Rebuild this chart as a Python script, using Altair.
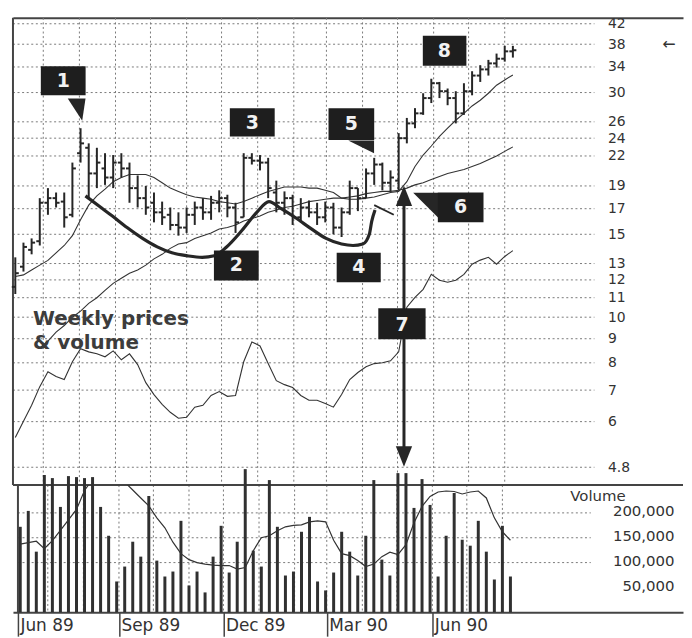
import altair as alt
import numpy as np
import pandas as pd

# ------------------------------------------------------------------ data
FIRST_WEEK = "1989-06-07"          # date of the first weekly bar
N_WEEKS = 62

opens = [11.6, 12.8, 13.9, 14.5, 17.5, 17.9, 17.6, 16.5, 22.3, 22.9,
         20.2, 20.7, 19.8, 21.3, 20.7, 18.8, 17.9, 17.5, 16.7, 16.5,
         15.7, 15.5, 16.5, 17.1, 16.7, 17.5, 17.9, 17.1, 16.3, 21.8,
         21.5, 21.3, 18.4, 17.5, 17.9, 16.3, 17.1, 16.7, 16.3, 17.1,
         15.5, 16.7, 18.8, 17.9, 20.2, 21.1, 19.3, 19.5, 24.0, 25.8,
         27.1, 29.2, 31.4, 30.2, 29.2, 27.1, 30.2, 32.6, 33.6, 34.6,
         35.4, 36.7]
highs = [13.4, 14.4, 14.7, 17.9, 18.8, 18.4, 18.4, 21.3, 25.2, 23.4,
         22.9, 22.3, 22.1, 22.3, 21.3, 20.0, 19.0, 18.4, 17.6, 17.1,
         16.7, 17.1, 17.6, 17.9, 18.1, 18.6, 18.2, 17.5, 22.3, 22.3,
         22.1, 21.8, 19.5, 18.5, 18.2, 17.9, 17.7, 17.5, 17.6, 17.5,
         17.1, 19.5, 18.8, 20.7, 21.8, 21.3, 20.5, 24.6, 26.5, 27.8,
         29.9, 32.1, 31.6, 30.6, 30.2, 31.4, 33.3, 34.3, 35.2, 36.3,
         37.7, 37.7]
lows = [11.2, 12.5, 13.6, 14.2, 16.5, 17.1, 15.5, 16.3, 21.3, 17.9,
        18.8, 19.1, 18.8, 19.8, 17.5, 17.1, 16.5, 15.9, 15.7, 15.3,
        14.9, 15.1, 15.7, 16.1, 16.1, 16.7, 16.3, 15.1, 16.3, 21.1,
        20.5, 17.9, 16.7, 16.5, 15.7, 15.9, 16.3, 15.7, 15.9, 15.0,
        14.8, 16.5, 16.8, 17.9, 19.1, 18.6, 18.5, 18.6, 23.4, 25.2,
        26.9, 28.5, 29.2, 28.2, 25.8, 26.9, 29.6, 31.6, 32.6, 33.9,
        34.9, 35.6]
closes = [12.4, 14.1, 14.4, 17.5, 17.9, 17.5, 16.3, 20.7, 23.4, 20.2,
          21.3, 19.8, 21.3, 20.7, 18.8, 17.9, 17.1, 16.7, 16.3, 15.7,
          15.5, 16.5, 17.1, 16.7, 17.5, 17.9, 17.1, 15.9, 21.8, 21.5,
          21.3, 18.8, 17.5, 17.9, 16.3, 17.1, 16.7, 16.3, 17.1, 15.5,
          16.7, 18.8, 17.9, 20.2, 21.1, 19.3, 19.8, 24.0, 25.8, 27.1,
          29.2, 31.4, 30.2, 29.2, 27.1, 30.2, 32.6, 33.6, 34.6, 35.4,
          36.7, 36.9]
ma_fast = [12.2, 12.3, 12.6, 12.9, 13.2, 13.7, 14.2, 14.9, 16.1, 17.3,
           18.1, 18.7, 19.4, 19.8, 20.1, 20.1, 20.1, 19.8, 19.3, 18.8,
           18.5, 18.2, 18.0, 17.9, 17.8, 17.6, 17.5, 17.4, 17.6, 17.9,
           18.2, 18.5, 18.7, 18.9, 18.9, 18.9, 18.8, 18.8, 18.6, 18.4,
           17.9, 17.8, 17.8, 17.9, 18.0, 18.2, 18.4, 18.5, 19.4, 20.9,
           22.1, 23.1, 24.2, 25.2, 26.2, 27.1, 28.1, 28.9, 29.9, 31.1,
           31.9, 32.7]
ma_slow = [None, None, None, 8.6, 8.9, 9.3, 9.6, 10.0, 10.3, 10.7,
           11.0, 11.4, 11.8, 12.1, 12.4, 12.6, 12.9, 13.3, 13.6, 14.0,
           14.3, 14.4, 14.7, 14.9, 15.1, 15.4, 15.5, 15.7, 16.0, 16.2,
           16.4, 16.7, 16.9, 17.1, 17.2, 17.4, 17.6, 17.7, 17.8, 17.9,
           17.9, 18.0, 18.1, 18.3, 18.4, 18.5, 18.5, 18.6, 18.8, 19.1,
           19.3, 19.6, 19.9, 20.2, 20.4, 20.6, 20.9, 21.2, 21.6, 22.0,
           22.5, 23.0]
rel_strength = [5.55, 6.01, 6.50, 7.12, 7.66, 7.48, 7.37, 8.04, 8.57, 8.44,
                8.36, 8.24, 8.48, 8.12, 8.36, 7.93, 7.26, 6.85, 6.53, 6.28,
                6.10, 6.13, 6.44, 6.50, 6.82, 6.95, 6.79, 6.82, 8.04, 8.86,
                8.69, 7.97, 7.33, 7.19, 7.09, 6.82, 6.66, 6.66, 6.56, 6.44,
                6.85, 7.37, 7.63, 7.85, 7.97, 8.00, 8.08, 8.44, 10.50, 11.02,
                11.46, 12.33, 11.98, 11.86, 11.98, 12.33, 12.96, 13.22, 13.40, 12.96,
                13.46, 13.85]
volume_k = [172, 204, 122, 276, 270, 212, 274, 272, 270, 272,
            212, 154, 62, 92, 142, 112, 234, 104, 72, 82,
            184, 54, 82, 40, 112, 174, 80, 142, 288, 124,
            92, 266, 172, 74, 82, 162, 192, 62, 44, 80,
            162, 122, 74, 154, 266, 106, 74, 280, 280, 210,
            268, 216, 72, 154, 240, 146, 134, 184, 122, 66,
            174, 72]
volume_ma_k = [137, 140, 143, 128, 144, 165, 186, 207, 245, 268,
               280, 282, 275, 262, 246, 230, 214, 190, 170, 141,
               118, 106, 100, 97, 95, 94, 94, 87, 90, 124,
               150, 154, 164, 172, 175, 176, 182, 184, 182, 145,
               118, 114, 104, 92, 97, 112, 121, 116, 136, 180,
               213, 233, 242, 244, 243, 238, 242, 244, 230, 190,
               162, 145]

price_ticks = [42, 38, 34, 30, 26, 24, 22, 19, 17, 15, 13, 12, 11, 10, 9, 8, 7, 6, 4.8]
volume_ticks = [50000, 100000, 150000, 200000]
volume_grid = [100000, 150000, 200000]

# hand-drawn annotations (positions in weeks from the first bar, price units)
cup_weeks = [8.6, 10.3, 11.9, 13.7, 15.6, 17.4, 19.2, 21.1, 22.9, 24.4, 25.9, 27.8,
             29.6, 31.1, 32.6, 34.5, 36.3, 38.1, 40.0, 41.4, 42.6, 43.4, 43.7, 44.1]
cup_prices = [18.1, 17.2, 16.4, 15.5, 14.7, 14.1, 13.7, 13.5, 13.4, 13.5, 14.1, 15.3,
              16.7, 17.6, 17.0, 16.2, 15.4, 14.7, 14.3, 14.2, 14.3, 15.0, 16.0, 16.9]
handle_weeks = [44.0, 46.4]
handle_prices = [17.3, 16.5]

box_labels = ["1", "2", "3", "4", "5", "6", "7", "8"]
box_w1 = [3.13, 24.35, 26.3, 39.4, 38.4, 51.8, 44.5, 49.96]
box_w2 = [8.62, 29.84, 31.8, 44.8, 44.0, 57.4, 50.3, 55.3]
box_top = [34.1, 13.86, 27.8, 13.7, 27.8, 18.4, 10.45, 39.6]
box_bottom = [29.6, 11.97, 24.2, 11.86, 23.8, 15.9, 8.98, 34.2]
box_text_w = [5.88, 27.1, 29.05, 42.1, 41.2, 54.6, 47.4, 52.6]
box_text_p = [31.8, 12.88, 25.9, 12.76, 25.7, 17.1, 9.64, 36.8]

pointer_weeks = [7.52, 42.4, 50.3, 47.65, 47.65]
pointer_prices = [27.6, 23.0, 17.3, 18.1, 5.06]
pointer_shapes = ["M -0.8 -1 L 0.8 -1 L 0.5 1 Z",
                  "M -1 -0.5 L 1 -0.5 L 1 0.5 Z",
                  "M -1 -1 L 1 -1 L 1 1 Z",
                  "M 0 -1 L 0.8 1 L -0.8 1 Z",
                  "M 0 1 L 0.8 -1 L -0.8 -1 Z"]
pointer_sizes = [500, 676, 625, 420, 420]
arrow_week = 47.65
arrow_prices = [18.1, 5.06]

caption_lines = ["Weekly prices", "& volume"]
caption_week = 2.16
caption_prices = [9.9, 8.82]

# ------------------------------------------------------------------ frames
week_dates = pd.date_range(FIRST_WEEK, periods=N_WEEKS, freq="7D")


def week_to_date(ws):
    return pd.Timestamp(FIRST_WEEK) + pd.to_timedelta(np.asarray(ws, dtype=float) * 7, unit="D")


bars = pd.DataFrame({
    "date": week_dates,
    "open_x": week_dates - pd.Timedelta(days=3),
    "close_x": week_dates + pd.Timedelta(days=3),
    "open": opens, "high": highs, "low": lows, "close": closes,
    "ma_fast": ma_fast, "ma_slow": ma_slow, "rs": rel_strength,
    "volume": np.array(volume_k) * 1000,
    "volume_ma": np.array(volume_ma_k) * 1000,
})

START = pd.Timestamp("1989-06-05")
GRID_END = pd.Timestamp("1990-10-17")
months = pd.DataFrame({"d": pd.date_range("1989-07-01", "1990-08-01", freq="MS")})
price_grid = pd.DataFrame({"p": price_ticks, "x1": START, "x2": GRID_END})
vol_grid = pd.DataFrame({"v": volume_grid, "x1": START, "x2": GRID_END})
left_edge = pd.DataFrame({"d": [START]})
vol_top = pd.DataFrame({"v": [256000]})

cup = pd.DataFrame({"d": week_to_date(cup_weeks), "p": cup_prices})
handle = pd.DataFrame({"d": week_to_date(handle_weeks), "p": handle_prices})
boxes = pd.DataFrame({"x1": week_to_date(box_w1), "x2": week_to_date(box_w2),
                      "y1": box_top, "y2": box_bottom,
                      "tx": week_to_date(box_text_w), "ty": box_text_p,
                      "label": box_labels})
pointers = pd.DataFrame({"d": week_to_date(pointer_weeks), "p": pointer_prices,
                         "shape": pointer_shapes, "size": pointer_sizes})
arrow = pd.DataFrame({"d": week_to_date([arrow_week]), "p1": [arrow_prices[0]],
                      "p2": [arrow_prices[1]]})
caption = pd.DataFrame({"d": week_to_date([caption_week] * 2), "p": caption_prices,
                        "t": caption_lines})
side_arrow = pd.DataFrame({"d": [pd.Timestamp("1990-12-20")], "p": [38], "t": ["\u2190"]})

# ------------------------------------------------------------------ style
FONT = "DejaVu Sans"
DARK = "#262626"
INK = "#333333"
GRIDC = "#7a7a7a"
DASH = [2, 2.6]

x_scale = alt.Scale(domain=[alt.DateTime(year=1989, month=6, date=5),
                            alt.DateTime(year=1991, month=1, date=1)], nice=False)
p_scale = alt.Scale(type="log", domain=[4.4, 43.24], nice=False)
v_scale = alt.Scale(domain=[0, 256000], nice=False, zero=False)

top_axis = alt.Axis(orient="top", labels=False, ticks=False, grid=False, domain=True,
                    domainColor="#444", domainWidth=2, title=None)
price_axis = alt.Axis(orient="right", values=price_ticks, format="~g", labelAlign="left",
                      labelPadding=-76, ticks=False, tickSize=0, domain=False, grid=False,
                      labelFont=FONT, labelFontSize=14, labelColor=INK,
                      labelBaseline="middle", labelOverlap=False, title=None)
vol_axis = alt.Axis(orient="right", values=volume_ticks, format=",.0f", labelAlign="right",
                    labelPadding=-9, ticks=False, tickSize=0, domain=False, grid=False,
                    labelFont=FONT, labelFontSize=15, labelColor=INK, labelBaseline="middle",
                    labelOffset=-2, labelOverlap=False, title="Volume", titleAngle=0,
                    titleX=-86, titleY=11, titleAlign="center", titleBaseline="middle",
                    titleFont=FONT, titleFontSize=15, titleFontWeight="normal", titleColor=INK)
date_axis = alt.Axis(orient="bottom",
                     values=[alt.DateTime(year=1989, month=6, date=5),
                             alt.DateTime(year=1989, month=9, date=1),
                             alt.DateTime(year=1989, month=12, date=1),
                             alt.DateTime(year=1990, month=3, date=1),
                             alt.DateTime(year=1990, month=6, date=1)],
                     format="%b %y", labelAlign="left", labelOffset=2, labelPadding=-11,
                     labelBaseline="middle", tickSize=24, tickColor="#444", tickWidth=1.5,
                     domainColor="#444", domainWidth=2, grid=False, title=None,
                     labelFont=FONT, labelFontSize=17, labelColor=INK, labelFlush=False,
                     labelOverlap=False)

# ------------------------------------------------------------------ price panel
PX = dict(scale=x_scale, axis=top_axis)
PY = dict(scale=p_scale, axis=price_axis)

p_vgrid = alt.Chart(months).mark_rule(color=GRIDC, strokeDash=DASH, strokeWidth=1).encode(
    x=alt.X("d:T", **PX))
p_hgrid = alt.Chart(price_grid).mark_rule(color=GRIDC, strokeDash=DASH, strokeWidth=1).encode(
    x=alt.X("x1:T", **PX), x2="x2:T", y=alt.Y("p:Q", **PY))
p_left = alt.Chart(left_edge).mark_rule(color="#444", strokeWidth=2).encode(
    x=alt.X("d:T", **PX))


def pline(field, width):
    return alt.Chart(bars).mark_line(color=INK, strokeWidth=width).encode(
        x=alt.X("date:T", **PX), y=alt.Y(f"{field}:Q", **PY))


rs_l = pline("rs", 1.1)
slow_l = pline("ma_slow", 1.1)
fast_l = pline("ma_fast", 1.1)
cup_l = alt.Chart(cup).mark_line(color=DARK, strokeWidth=3.2, interpolate="monotone").encode(
    x=alt.X("d:T", **PX), y=alt.Y("p:Q", **PY))
handle_l = alt.Chart(handle).mark_line(color=DARK, strokeWidth=1.8).encode(
    x=alt.X("d:T", **PX), y=alt.Y("p:Q", **PY))

hl = alt.Chart(bars).mark_rule(color=DARK, strokeWidth=2).encode(
    x=alt.X("date:T", **PX), y=alt.Y("low:Q", **PY), y2="high:Q")
op = alt.Chart(bars).mark_rule(color=DARK, strokeWidth=2).encode(
    x=alt.X("open_x:T", **PX), x2="date:T", y=alt.Y("open:Q", **PY))
cl = alt.Chart(bars).mark_rule(color=DARK, strokeWidth=2).encode(
    x=alt.X("date:T", **PX), x2="close_x:T", y=alt.Y("close:Q", **PY))

shaft = alt.Chart(arrow).mark_rule(color=DARK, strokeWidth=3).encode(
    x=alt.X("d:T", **PX), y=alt.Y("p1:Q", **PY), y2="p2:Q")
ptr = alt.Chart(pointers).mark_point(filled=True, color=DARK, opacity=1, strokeWidth=0).encode(
    x=alt.X("d:T", **PX), y=alt.Y("p:Q", **PY),
    shape=alt.Shape("shape:N", scale=None), size=alt.Size("size:Q", scale=None))
box_r = alt.Chart(boxes).mark_rect(color="#1e1e1e").encode(
    x=alt.X("x1:T", **PX), x2="x2:T", y=alt.Y("y1:Q", **PY), y2="y2:Q")
box_t = alt.Chart(boxes).mark_text(color="#f2f2f2", font=FONT, fontSize=19, fontWeight="bold",
                                   align="center", baseline="middle").encode(
    x=alt.X("tx:T", **PX), y=alt.Y("ty:Q", **PY), text="label:N")
cap_t = alt.Chart(caption).mark_text(color="#3c3c3c", font=FONT, fontSize=20, fontWeight="bold",
                                     align="left", baseline="middle").encode(
    x=alt.X("d:T", **PX), y=alt.Y("p:Q", **PY), text="t:N")
side_t = alt.Chart(side_arrow).mark_text(color=INK, font=FONT, fontSize=16,
                                         align="center", baseline="middle").encode(
    x=alt.X("d:T", **PX), y=alt.Y("p:Q", **PY), text="t:N")

price = alt.layer(p_vgrid, p_hgrid, p_left, rs_l, slow_l, fast_l, cup_l, handle_l,
                  hl, op, cl, shaft, ptr, box_r, box_t, cap_t, side_t).properties(
    width=674, height=470)

# ------------------------------------------------------------------ volume panel
VX = dict(scale=x_scale, axis=date_axis)
VY = dict(scale=v_scale, axis=vol_axis)

v_vgrid = alt.Chart(months).mark_rule(color=GRIDC, strokeDash=DASH, strokeWidth=1).encode(
    x=alt.X("d:T", **VX))
v_hgrid = alt.Chart(vol_grid).mark_rule(color=GRIDC, strokeDash=DASH, strokeWidth=1).encode(
    x=alt.X("x1:T", **VX), x2="x2:T", y=alt.Y("v:Q", **VY))
v_top = alt.Chart(vol_top).mark_rule(color="#444", strokeWidth=2).encode(
    y=alt.Y("v:Q", **VY))
v_left = alt.Chart(left_edge).mark_rule(color="#444", strokeWidth=2).encode(
    x=alt.X("d:T", **VX))
v_bars = alt.Chart(bars).mark_bar(color="#303030", size=3).encode(
    x=alt.X("date:T", **VX), y=alt.Y("volume:Q", **VY))
v_ma = alt.Chart(bars).mark_line(color=INK, strokeWidth=1.2, clip=True).encode(
    x=alt.X("date:T", **VX), y=alt.Y("volume_ma:Q", **VY))

volume = alt.layer(v_vgrid, v_hgrid, v_top, v_left, v_bars, v_ma).properties(
    width=674, height=128)

chart = alt.vconcat(price, volume, spacing=0, bounds="flush").properties(
    padding={"left": 2, "top": 6, "right": 0, "bottom": 2},
    background="white",
).configure_view(stroke=None)

chart.save("out.html", embed_options={"renderer": "svg", "actions": False})
